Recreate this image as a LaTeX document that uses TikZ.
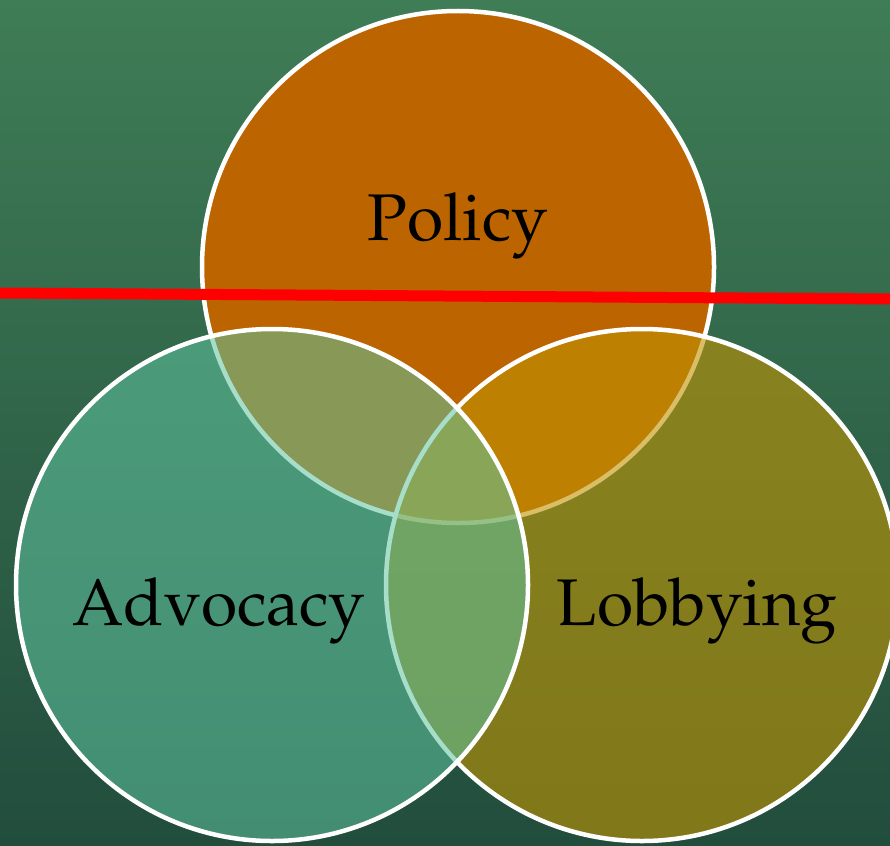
\documentclass[tikz,border=0pt]{standalone}
\usepackage[T1]{fontenc}
\usepackage{mathpazo}
\definecolor{bgtop}{HTML}{3F7D56}
\definecolor{bgbot}{HTML}{224D3D}
\definecolor{policyc}{HTML}{BB6400}
\definecolor{advc}{HTML}{5FC4A0}
\definecolor{lobc}{HTML}{C09402}
\definecolor{redline}{HTML}{FF0000}
\tikzset{
  venn/.style={circle, draw=white, line width=4.5pt, inner sep=0pt, minimum size=512pt},
  lbl/.style={font=\fontsize{66}{78}\selectfont, text=black, inner sep=0pt, anchor=base},
}
\begin{document}
\begin{tikzpicture}[x=1pt,y=-1pt]
\useasboundingbox (0,0) rectangle (890,845);
\shade[top color=bgtop, bottom color=bgbot] (0,0) rectangle (890,845);
\node[venn, fill=policyc] (policy) at (458,267) {};
\node[venn, fill=lobc, fill opacity=0.6] (lobbying) at (642,585) {};
\node[venn, fill=advc, fill opacity=0.55] (advocacy) at (272,585) {};
\node[lbl] (tpolicy) at (458,240) {Policy};
\node[lbl] (tadv) at (219,625) {Advocacy};
\node[lbl] (tlob) at (697,625) {Lobbying};
\coordinate (rl) at (0,293);
\coordinate (rr) at (890,299);
\draw[redline, line width=11pt] (rl) -- (rr);
\end{tikzpicture}
\end{document}
